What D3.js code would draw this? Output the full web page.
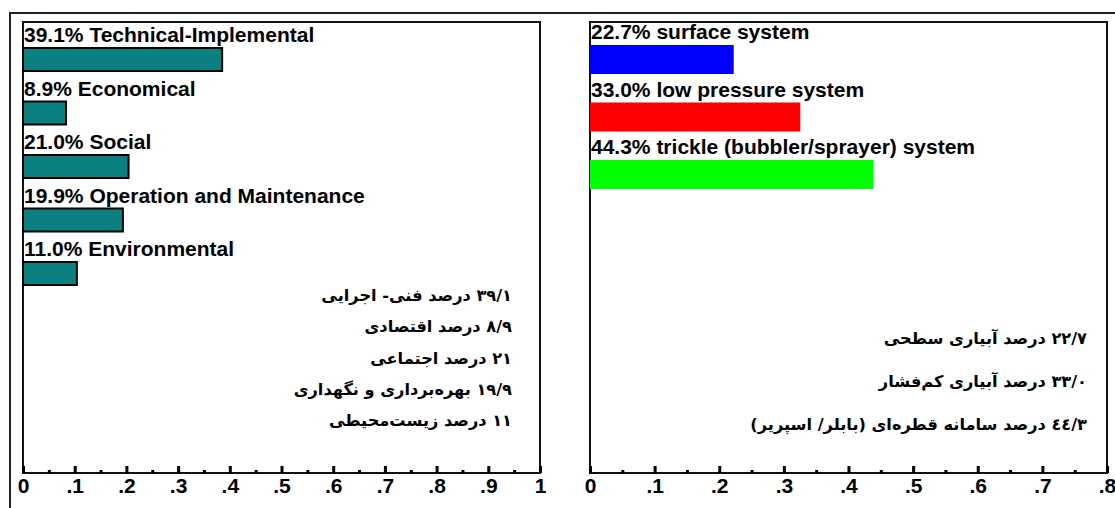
<!DOCTYPE html>
<html>
<head>
<meta charset="utf-8">
<script src="https://cdn.jsdelivr.net/npm/d3@7"></script>
<style>
  body { margin: 0; background: #fff; }
  svg { display: block; }
  .lbl { font-family: "Liberation Sans", Arial, sans-serif; font-weight: bold; font-size: 21px; fill: #000; }
  .fa { font-family: "DejaVu Sans", sans-serif; font-weight: bold; font-size: 16.2px; fill: #000; }
  .tick text { font-family: "Liberation Sans", Arial, sans-serif; font-weight: bold; font-size: 21px; fill: #000; }
</style>
</head>
<body>
<svg id="chart" width="1115" height="508"></svg>
<script>
// left panel: problem categories
const leftLabels = ["39.1% Technical-Implemental", "8.9% Economical", "21.0% Social",
                    "19.9% Operation and Maintenance", "11.0% Environmental"];
const leftValues = [0.391, 0.089, 0.210, 0.199, 0.110];
const leftNotes = ["۳۹/۱ درصد فنی- اجرایی", "۸/۹ درصد اقتصادی", "۲۱ درصد اجتماعی",
                   "۱۹/۹ بهره‌برداری و نگهداری", "۱۱ درصد زیست‌محیطی"];

// right panel: irrigation systems
const rightLabels = ["22.7% surface system", "33.0% low pressure system",
                     "44.3% trickle (bubbler/sprayer) system"];
const rightValues = [0.227, 0.330, 0.443];
const rightColors = ["#0000ff", "#ff0000", "#00ff00"];
// number wrapped in an LTR isolate so the Arabic-Indic digits keep their order
const rightNotes = ["۲۲/۷ درصد آبیاری سطحی", "۳۳/۰ درصد آبیاری کم‌فشار",
                    "\u2066٤٤/۳\u2069 درصد سامانه قطره‌ای (بابلر/ اسپریر)"];

const leftTicks = d3.range(0, 1.0001, 0.1);
const leftMinor = d3.range(0.05, 1, 0.1);
const rightTicks = d3.range(0, 0.8001, 0.1);
const rightMinor = d3.range(0.05, 0.8, 0.1);

const svg = d3.select("#chart");
const plotTop = 22, plotBottom = 473;

const xL = d3.scaleLinear().domain([0, 1]).range([23, 540]);
const xR = d3.scaleLinear().domain([0, 0.8]).range([590, 1107]);
const yL = d3.scaleLinear().domain([0, 4]).range([48, 262]);
const yR = d3.scaleLinear().domain([0, 2]).range([45, 160]);

const fmt = d => (d === 0 ? "0" : Math.abs(d - 1) < 1e-9 ? "1" : d.toFixed(1).replace(/^0/, ""));

// outer frame
svg.append("path")
   .attr("d", "M10,508 V13 H1115")
   .attr("fill", "none").attr("stroke", "#222").attr("stroke-width", 2);

function panel(x, y, labels, values, notes, colors, barH, ticks, minor, noteX, noteY) {
    let g = svg.append("g");
    g.append("rect")
     .attr("x", x.range()[0]).attr("y", plotTop)
     .attr("width", x.range()[1] - x.range()[0]).attr("height", plotBottom - plotTop)
     .attr("fill", "none").attr("stroke", "#111").attr("stroke-width", 2);

    let axis = g.append("g").attr("transform", `translate(0,${plotBottom})`)
                .call(d3.axisBottom(x).tickValues(ticks).tickSize(-7).tickFormat(fmt));
    axis.select(".domain").remove();
    axis.selectAll("line").attr("stroke", "#000").attr("stroke-width", 3);
    axis.selectAll("text").attr("y", 5).attr("dy", "0.71em");

    let axisMinor = g.append("g").attr("transform", `translate(0,${plotBottom})`)
                     .call(d3.axisBottom(x).tickValues(minor).tickSize(-3).tickFormat(""));
    axisMinor.select(".domain").remove();
    axisMinor.selectAll("line").attr("stroke", "#000").attr("stroke-width", 3);

    // the original plot draws bars a few pixels short of their scale value
    g.selectAll("rect.bar").data(values).enter().append("rect")
     .attr("class", "bar")
     .attr("x", x(0)).attr("y", (d, i) => y(i))
     .attr("width", d => x(d) - x(0) - 3).attr("height", barH)
     .attr("fill", (d, i) => colors[i % colors.length])
     .attr("stroke", colors.length === 1 ? "#000" : "none")
     .attr("stroke-width", 2);

    g.selectAll("text.lbl").data(labels).enter().append("text")
     .attr("class", "lbl")
     .attr("x", x(0) + 1).attr("y", (d, i) => y(i) - 6)
     .text(d => d);

    g.selectAll("text.fa").data(notes).enter().append("text")
     .attr("class", "fa")
     .attr("direction", "rtl")
     .attr("text-anchor", "start")
     .attr("x", noteX).attr("y", (d, i) => noteY(i))
     .text(d => d);
}

panel(xL, yL, leftLabels, leftValues, leftNotes, ["#0a8080"], 23, leftTicks, leftMinor,
      512, d3.scaleLinear().domain([0, 4]).range([301, 426]));
panel(xR, yR, rightLabels, rightValues, rightNotes, rightColors, 29, rightTicks, rightMinor,
      1087, d3.scaleLinear().domain([0, 2]).range([344, 430]));
</script>
</body>
</html>
